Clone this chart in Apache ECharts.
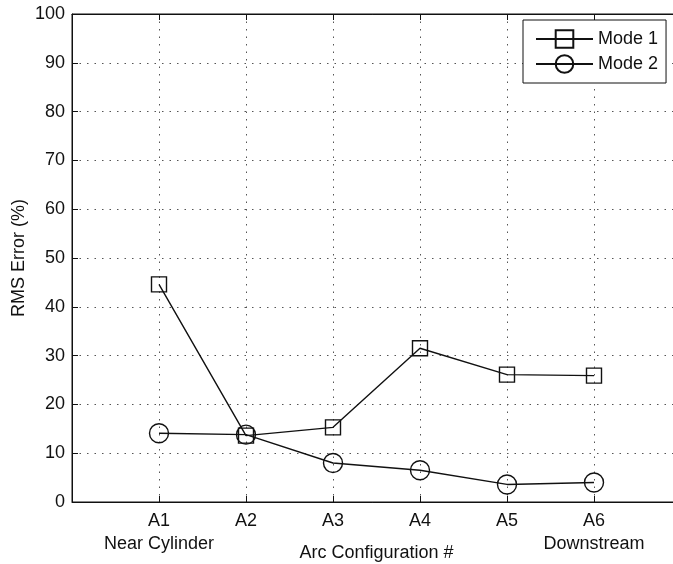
<!DOCTYPE html>
<html>
<head>
<meta charset="utf-8">
<script src="https://cdn.jsdelivr.net/npm/echarts@6/dist/echarts.min.js"></script>
<style>
  html, body { margin: 0; padding: 0; background: #fff; }
  #chart { width: 673px; height: 564px; }
</style>
</head>
<body>
<div id="chart"></div>
<script>
// Arc configurations, placed at positions 1..6 on the x axis
const positions = [1, 2, 3, 4, 5, 6];
const xTickLabels = ['', 'A1\nNear Cylinder', 'A2', 'A3', 'A4', 'A5', 'A6\nDownstream', ''];

// RMS error (%) per configuration
const mode1 = [44.6, 13.6, 15.3, 31.5, 26.1, 25.9];
const mode2 = [14.1, 13.8, 8.0, 6.5, 3.6, 4.0];

const seriesNames = ['Mode 1', 'Mode 2'];
const yTicks = { min: 0, max: 100, step: 10 };

const FONT = 'Liberation Sans, Arial, Helvetica, sans-serif';
const INK = '#111';

const chart = echarts.init(document.getElementById('chart'), null, { renderer: 'canvas' });

const pairs = (vals) => positions.map((p, i) => [p, vals[i]]);

const dotted = { color: '#555', width: 1, type: [1.5, 6] };

chart.setOption({
  animation: false,
  backgroundColor: '#fff',
  textStyle: { fontFamily: FONT, color: INK },
  grid: {
    left: 72, top: 14, width: 609, height: 488,
    outerBoundsMode: 'none', containLabel: false,
    show: true, borderColor: INK, borderWidth: 1, backgroundColor: 'transparent'
  },
  legend: {
    left: 523, top: 20,
    orient: 'vertical',
    itemWidth: 57, itemHeight: 22, itemGap: 3,
    padding: [8, 8, 8, 12],
    backgroundColor: '#fff',
    borderColor: INK, borderWidth: 1,
    textStyle: { fontSize: 18, color: INK, fontFamily: FONT, lineHeight: 22 },
    data: seriesNames
  },
  xAxis: [
    {
      type: 'value', min: 0, max: 7, interval: 1,
      name: 'Arc Configuration #',
      nameLocation: 'middle', nameGap: 42, nameMoveOverlap: false,
      nameTextStyle: { fontSize: 18, color: INK, fontFamily: FONT },
      axisLine: { show: true, lineStyle: { color: INK, width: 1 } },
      axisTick: { show: true, inside: true, length: 6, lineStyle: { color: INK } },
      axisLabel: {
        fontSize: 18, color: INK, fontFamily: FONT, margin: 8, lineHeight: 23,
        formatter: (v) => xTickLabels[v] || ''
      },
      splitLine: { show: true, lineStyle: dotted }
    },
    {
      type: 'value', min: 0, max: 7, interval: 1, position: 'top',
      axisLine: { show: true, lineStyle: { color: INK, width: 1 } },
      axisTick: { show: true, inside: true, length: 6, lineStyle: { color: INK } },
      axisLabel: { show: false },
      splitLine: { show: false }
    }
  ],
  yAxis: {
    type: 'value', min: yTicks.min, max: yTicks.max, interval: yTicks.step,
    name: 'RMS Error (%)',
    nameLocation: 'middle', nameGap: 44, nameMoveOverlap: false,
    nameTextStyle: { fontSize: 18, color: INK, fontFamily: FONT },
    axisLine: { show: true, lineStyle: { color: INK, width: 1 } },
    axisTick: { show: true, inside: true, length: 6, lineStyle: { color: INK } },
    axisLabel: { fontSize: 18, color: INK, fontFamily: FONT, margin: 7 },
    splitLine: { show: true, lineStyle: dotted }
  },
  series: [
    {
      name: seriesNames[0], type: 'line', data: pairs(mode1),
      symbol: 'rect', symbolSize: 15,
      lineStyle: { color: INK, width: 1.4 },
      itemStyle: { color: 'transparent', borderColor: INK, borderWidth: 1.4 },
      emphasis: { disabled: true }, z: 3
    },
    {
      name: seriesNames[1], type: 'line', data: pairs(mode2),
      symbol: 'circle', symbolSize: 19,
      lineStyle: { color: INK, width: 1.4 },
      itemStyle: { color: 'transparent', borderColor: INK, borderWidth: 1.4 },
      emphasis: { disabled: true }, z: 3
    }
  ]
});
</script>
</body>
</html>
